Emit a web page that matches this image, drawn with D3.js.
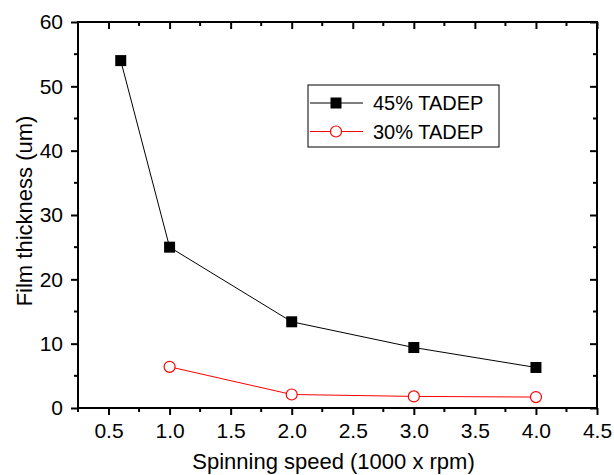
<!DOCTYPE html>
<html>
<head>
<meta charset="utf-8">
<script src="https://cdn.jsdelivr.net/npm/d3@7"></script>
<style>
  body { margin: 0; background: #fff; }
  text { font-family: "Liberation Sans", Arial, sans-serif; fill: #000; }
</style>
</head>
<body>
<div id="chart"></div>
<script>
// values
const speeds45 = [0.6, 1.0, 2.0, 3.0, 4.0]
const thick45 = [54, 25, 13.4, 9.4, 6.3]
const speeds30 = [1.0, 2.0, 3.0, 4.0]
const thick30 = [6.4, 2.1, 1.8, 1.7]
const xTicks = [0.5, 1.0, 1.5, 2.0, 2.5, 3.0, 3.5, 4.0, 4.5]
const yTicks = [0, 10, 20, 30, 40, 50, 60]
const legendLabels = ['45% TADEP', '30% TADEP']

const width = 614, height = 475
const margin = { top: 22, right: 17, bottom: 67, left: 78 }
const innerW = width - margin.left - margin.right
const innerH = height - margin.top - margin.bottom

const svg = d3.select('#chart').append('svg')
  .attr('width', width)
  .attr('height', height)

const g = svg.append('g')
  .attr('transform', `translate(${margin.left},${margin.top})`)

const x = d3.scaleLinear().domain([0.25, 4.5]).range([0, innerW])
const y = d3.scaleLinear().domain([0, 60]).range([innerH, 0])

const xMinor = d3.range(0.25, 4.5, 0.5)
const yMinor = d3.range(5, 60, 10)

// frame
g.append('rect')
  .attr('width', innerW).attr('height', innerH)
  .attr('fill', 'none').attr('stroke', '#000').attr('stroke-width', 2)

function styleTicks(sel) {
  sel.select('.domain').remove()
  sel.selectAll('line').attr('stroke-width', 2)
  sel.selectAll('text').style('font-size', '21px')
}

// bottom axis: ticks outward
const xAxis = g.append('g').attr('transform', `translate(0,${innerH})`)
  .call(d3.axisBottom(x).tickValues(xTicks).tickFormat(d3.format('.1f')).tickSize(7).tickPadding(8))
  .call(styleTicks)
xAxis.selectAll('.minor').data(xMinor).join('line')
  .attr('class', 'minor')
  .attr('x1', d => x(d)).attr('x2', d => x(d))
  .attr('y1', 0).attr('y2', 4)
  .attr('stroke', '#000').attr('stroke-width', 2)

// left axis: ticks outward
const yAxis = g.append('g')
  .call(d3.axisLeft(y).tickValues(yTicks).tickSize(7).tickPadding(8))
  .call(styleTicks)
yAxis.selectAll('.minor').data(yMinor).join('line')
  .attr('class', 'minor')
  .attr('x1', 0).attr('x2', -4)
  .attr('y1', d => y(d)).attr('y2', d => y(d))
  .attr('stroke', '#000').attr('stroke-width', 2)

// top and right: ticks inward, no labels
const topAxis = g.append('g')
  .call(d3.axisTop(x).tickValues(xTicks).tickSize(-7).tickFormat(''))
  .call(styleTicks)
topAxis.selectAll('.minor').data(xMinor).join('line')
  .attr('class', 'minor')
  .attr('x1', d => x(d)).attr('x2', d => x(d))
  .attr('y1', 0).attr('y2', 4)
  .attr('stroke', '#000').attr('stroke-width', 2)

const rightAxis = g.append('g').attr('transform', `translate(${innerW},0)`)
  .call(d3.axisRight(y).tickValues(yTicks).tickSize(-7).tickFormat(''))
  .call(styleTicks)
rightAxis.selectAll('.minor').data(yMinor).join('line')
  .attr('class', 'minor')
  .attr('x1', 0).attr('x2', -4)
  .attr('y1', d => y(d)).attr('y2', d => y(d))
  .attr('stroke', '#000').attr('stroke-width', 2)

// axis titles
svg.append('text')
  .attr('x', margin.left + innerW / 2 - 4)
  .attr('y', 469)
  .attr('text-anchor', 'middle')
  .style('font-size', '22px')
  .text('Spinning speed (1000 x rpm)')

svg.append('text')
  .attr('transform', `translate(32,${margin.top + innerH / 2 - 4}) rotate(-90)`)
  .attr('text-anchor', 'middle')
  .style('font-size', '22px')
  .text('Film thickness (um)')

// series
const line = d3.line().x(d => x(d[0])).y(d => y(d[1]))
const data45 = d3.zip(speeds45, thick45)
const data30 = d3.zip(speeds30, thick30)

g.append('path').datum(data45)
  .attr('d', line).attr('fill', 'none').attr('stroke', '#000').attr('stroke-width', 1)
g.append('path').datum(data30)
  .attr('d', line).attr('fill', 'none').attr('stroke', '#ff0000').attr('stroke-width', 1)

const sq = 11
g.selectAll('.sq').data(data45).join('rect')
  .attr('class', 'sq')
  .attr('x', d => x(d[0]) - sq / 2).attr('y', d => y(d[1]) - sq / 2)
  .attr('width', sq).attr('height', sq)
  .attr('fill', '#000')

g.selectAll('.circ').data(data30).join('circle')
  .attr('class', 'circ')
  .attr('cx', d => x(d[0])).attr('cy', d => y(d[1]))
  .attr('r', 5.5)
  .attr('fill', '#fff').attr('stroke', '#ff0000').attr('stroke-width', 1.2)

// legend
const legend = svg.append('g').attr('transform', 'translate(308,85)')
legend.append('rect')
  .attr('width', 191).attr('height', 62)
  .attr('fill', '#fff').attr('stroke', '#000').attr('stroke-width', 1)

const rows = legend.selectAll('.row').data(legendLabels).join('g')
  .attr('class', 'row')
  .attr('transform', (d, i) => `translate(0,${18 + i * 28.5})`)

rows.append('line')
  .attr('x1', 2).attr('x2', 55).attr('y1', 0).attr('y2', 0)
  .attr('stroke', (d, i) => i === 0 ? '#000' : '#ff0000').attr('stroke-width', 1)

rows.filter((d, i) => i === 0).append('rect')
  .attr('x', 28 - sq / 2).attr('y', -sq / 2).attr('width', sq).attr('height', sq)
  .attr('fill', '#000')
rows.filter((d, i) => i === 1).append('circle')
  .attr('cx', 28).attr('cy', 0).attr('r', 5.5)
  .attr('fill', '#fff').attr('stroke', '#ff0000').attr('stroke-width', 1.2)

rows.append('text')
  .attr('x', 65).attr('y', 0).attr('dy', '0.35em')
  .style('font-size', '20px')
  .text(d => d)
</script>
</body>
</html>
